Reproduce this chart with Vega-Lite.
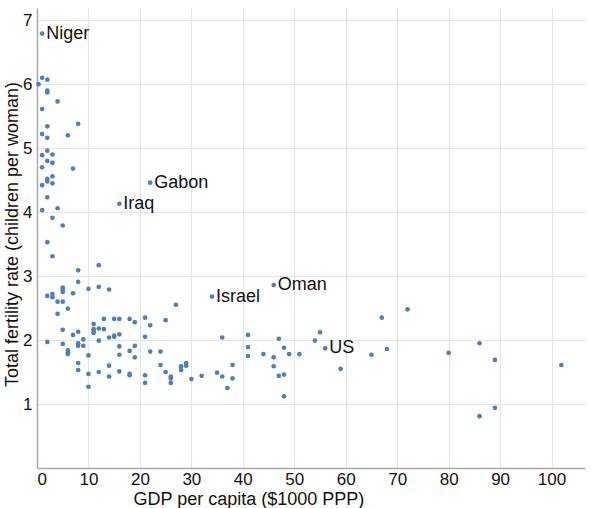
{
  "$schema": "https://vega.github.io/schema/vega-lite/v6.json",
  "width": 548,
  "height": 460,
  "autosize": {"type": "none"},
  "padding": {"left": 37, "top": 8, "right": 15, "bottom": 40},
  "data": {
    "values": [
      {"gdp": 1, "tfr": 6.79, "country": "Niger"},
      {"gdp": 1, "tfr": 6.10}, {"gdp": 2, "tfr": 6.07}, {"gdp": 0.3, "tfr": 6.00},
      {"gdp": 2, "tfr": 5.90}, {"gdp": 2, "tfr": 5.87}, {"gdp": 4, "tfr": 5.73},
      {"gdp": 1, "tfr": 5.61}, {"gdp": 8, "tfr": 5.38}, {"gdp": 2, "tfr": 5.34},
      {"gdp": 1, "tfr": 5.22}, {"gdp": 6, "tfr": 5.20}, {"gdp": 2, "tfr": 5.16},
      {"gdp": 7, "tfr": 4.68}, {"gdp": 2, "tfr": 4.96}, {"gdp": 1, "tfr": 4.89},
      {"gdp": 3, "tfr": 4.90}, {"gdp": 2, "tfr": 4.80}, {"gdp": 3, "tfr": 4.77},
      {"gdp": 1, "tfr": 4.70}, {"gdp": 3, "tfr": 4.56}, {"gdp": 2, "tfr": 4.52},
      {"gdp": 2, "tfr": 4.48}, {"gdp": 3, "tfr": 4.45}, {"gdp": 1, "tfr": 4.42},
      {"gdp": 22, "tfr": 4.46, "country": "Gabon"},
      {"gdp": 2, "tfr": 4.23}, {"gdp": 1, "tfr": 4.03}, {"gdp": 4, "tfr": 4.06},
      {"gdp": 16, "tfr": 4.13, "country": "Iraq"},
      {"gdp": 3, "tfr": 3.91}, {"gdp": 5, "tfr": 3.79}, {"gdp": 2, "tfr": 3.53},
      {"gdp": 3, "tfr": 3.31}, {"gdp": 8, "tfr": 3.09}, {"gdp": 12, "tfr": 3.17},
      {"gdp": 8, "tfr": 2.91}, {"gdp": 5, "tfr": 2.82}, {"gdp": 5, "tfr": 2.79},
      {"gdp": 5, "tfr": 2.75}, {"gdp": 10, "tfr": 2.80}, {"gdp": 12, "tfr": 2.83},
      {"gdp": 14, "tfr": 2.79}, {"gdp": 7, "tfr": 2.73}, {"gdp": 2, "tfr": 2.69},
      {"gdp": 3, "tfr": 2.72}, {"gdp": 3, "tfr": 2.67}, {"gdp": 4, "tfr": 2.60},
      {"gdp": 5, "tfr": 2.60}, {"gdp": 6, "tfr": 2.49}, {"gdp": 4, "tfr": 2.41},
      {"gdp": 27, "tfr": 2.55}, {"gdp": 13, "tfr": 2.33}, {"gdp": 15, "tfr": 2.33},
      {"gdp": 16, "tfr": 2.33}, {"gdp": 18, "tfr": 2.33}, {"gdp": 19, "tfr": 2.28},
      {"gdp": 21, "tfr": 2.35}, {"gdp": 22, "tfr": 2.23}, {"gdp": 25, "tfr": 2.31},
      {"gdp": 11, "tfr": 2.25}, {"gdp": 11, "tfr": 2.17}, {"gdp": 11, "tfr": 2.14},
      {"gdp": 11, "tfr": 2.11}, {"gdp": 12, "tfr": 2.18}, {"gdp": 13, "tfr": 2.17},
      {"gdp": 5, "tfr": 2.16}, {"gdp": 8, "tfr": 2.13}, {"gdp": 7, "tfr": 2.08},
      {"gdp": 16, "tfr": 2.09}, {"gdp": 15, "tfr": 2.07}, {"gdp": 15, "tfr": 2.05},
      {"gdp": 14, "tfr": 2.04}, {"gdp": 21, "tfr": 2.05}, {"gdp": 9, "tfr": 2.01},
      {"gdp": 12, "tfr": 1.99}, {"gdp": 2, "tfr": 1.97}, {"gdp": 5, "tfr": 1.94},
      {"gdp": 8, "tfr": 1.95}, {"gdp": 8, "tfr": 1.91}, {"gdp": 9, "tfr": 1.91},
      {"gdp": 16, "tfr": 1.90}, {"gdp": 19, "tfr": 1.91}, {"gdp": 6, "tfr": 1.84},
      {"gdp": 6, "tfr": 1.81}, {"gdp": 6, "tfr": 1.78}, {"gdp": 18, "tfr": 1.83},
      {"gdp": 22, "tfr": 1.82}, {"gdp": 24, "tfr": 1.82}, {"gdp": 10, "tfr": 1.76},
      {"gdp": 16, "tfr": 1.77}, {"gdp": 19, "tfr": 1.73}, {"gdp": 8, "tfr": 1.64},
      {"gdp": 14, "tfr": 1.60}, {"gdp": 24, "tfr": 1.61}, {"gdp": 29, "tfr": 1.64},
      {"gdp": 29, "tfr": 1.60}, {"gdp": 28, "tfr": 1.59}, {"gdp": 28, "tfr": 1.53},
      {"gdp": 8, "tfr": 1.53}, {"gdp": 10, "tfr": 1.47}, {"gdp": 12, "tfr": 1.50},
      {"gdp": 16, "tfr": 1.51}, {"gdp": 18, "tfr": 1.47}, {"gdp": 18, "tfr": 1.45},
      {"gdp": 21, "tfr": 1.45}, {"gdp": 25, "tfr": 1.50}, {"gdp": 14, "tfr": 1.43},
      {"gdp": 26, "tfr": 1.43}, {"gdp": 26, "tfr": 1.40}, {"gdp": 30, "tfr": 1.39},
      {"gdp": 10, "tfr": 1.27}, {"gdp": 21, "tfr": 1.33}, {"gdp": 26, "tfr": 1.33},
      {"gdp": 36, "tfr": 2.04}, {"gdp": 32, "tfr": 1.44}, {"gdp": 35, "tfr": 1.49},
      {"gdp": 36, "tfr": 1.43}, {"gdp": 38, "tfr": 1.61}, {"gdp": 38, "tfr": 1.40},
      {"gdp": 37, "tfr": 1.25},
      {"gdp": 34, "tfr": 2.68, "country": "Israel"},
      {"gdp": 46, "tfr": 2.86, "country": "Oman"},
      {"gdp": 56, "tfr": 1.87, "country": "US"},
      {"gdp": 41, "tfr": 2.08}, {"gdp": 41, "tfr": 1.89}, {"gdp": 41, "tfr": 1.75},
      {"gdp": 44, "tfr": 1.78}, {"gdp": 46, "tfr": 1.73}, {"gdp": 46, "tfr": 1.59},
      {"gdp": 47, "tfr": 2.02}, {"gdp": 48, "tfr": 1.88}, {"gdp": 49, "tfr": 1.78},
      {"gdp": 47, "tfr": 1.44}, {"gdp": 48, "tfr": 1.46}, {"gdp": 48, "tfr": 1.12},
      {"gdp": 51, "tfr": 1.78}, {"gdp": 54, "tfr": 1.99}, {"gdp": 55, "tfr": 2.12},
      {"gdp": 59, "tfr": 1.55}, {"gdp": 65, "tfr": 1.77}, {"gdp": 67, "tfr": 2.35},
      {"gdp": 68, "tfr": 1.86}, {"gdp": 72, "tfr": 2.48}, {"gdp": 80, "tfr": 1.80},
      {"gdp": 86, "tfr": 1.95}, {"gdp": 89, "tfr": 1.69}, {"gdp": 101.9, "tfr": 1.61},
      {"gdp": 86, "tfr": 0.81}, {"gdp": 89, "tfr": 0.94}
    ]
  },
  "encoding": {
    "x": {
      "field": "gdp",
      "type": "quantitative",
      "scale": {"domain": [0, 106.5], "nice": false},
      "axis": {
        "title": "GDP per capita ($1000 PPP)",
        "values": [0, 10, 20, 30, 40, 50, 60, 70, 80, 90, 100],
        "labelPadding": 3,
        "titleAnchor": "start",
        "titleAlign": "left",
        "titleX": 96,
        "titleY": 36,
        "titleBaseline": "alphabetic"
      }
    },
    "y": {
      "field": "tfr",
      "type": "quantitative",
      "scale": {"domain": [0, 7.19], "nice": false},
      "axis": {
        "title": "Total fertility rate (children per woman)",
        "values": [0, 1, 2, 3, 4, 5, 6, 7],
        "labelExpr": "datum.value == 0 ? '' : datum.label",
        "titleX": -25,
        "titleY": 226,
        "titleBaseline": "middle"
      }
    }
  },
  "layer": [
    {
      "mark": {"type": "circle", "color": "#4a7fc4", "size": 22, "opacity": 1}
    },
    {
      "transform": [{"filter": "datum.country != null"}],
      "mark": {
        "type": "text",
        "align": "left",
        "baseline": "middle",
        "dx": 4,
        "fontSize": 18,
        "font": "Liberation Sans",
        "color": "#111"
      },
      "encoding": {"text": {"field": "country"}}
    }
  ],
  "config": {
    "view": {"stroke": null},
    "axis": {
      "ticks": false,
      "labelFont": "Liberation Sans",
      "labelFontSize": 17,
      "labelColor": "#111",
      "labelPadding": 5,
      "titleFont": "Liberation Sans",
      "titleFontSize": 18,
      "titleFontWeight": "normal",
      "titleColor": "#111",
      "gridColor": "#e4e4e4",
      "domainColor": "#a8a8a8",
      "domainWidth": 1.5
    }
  }
}
